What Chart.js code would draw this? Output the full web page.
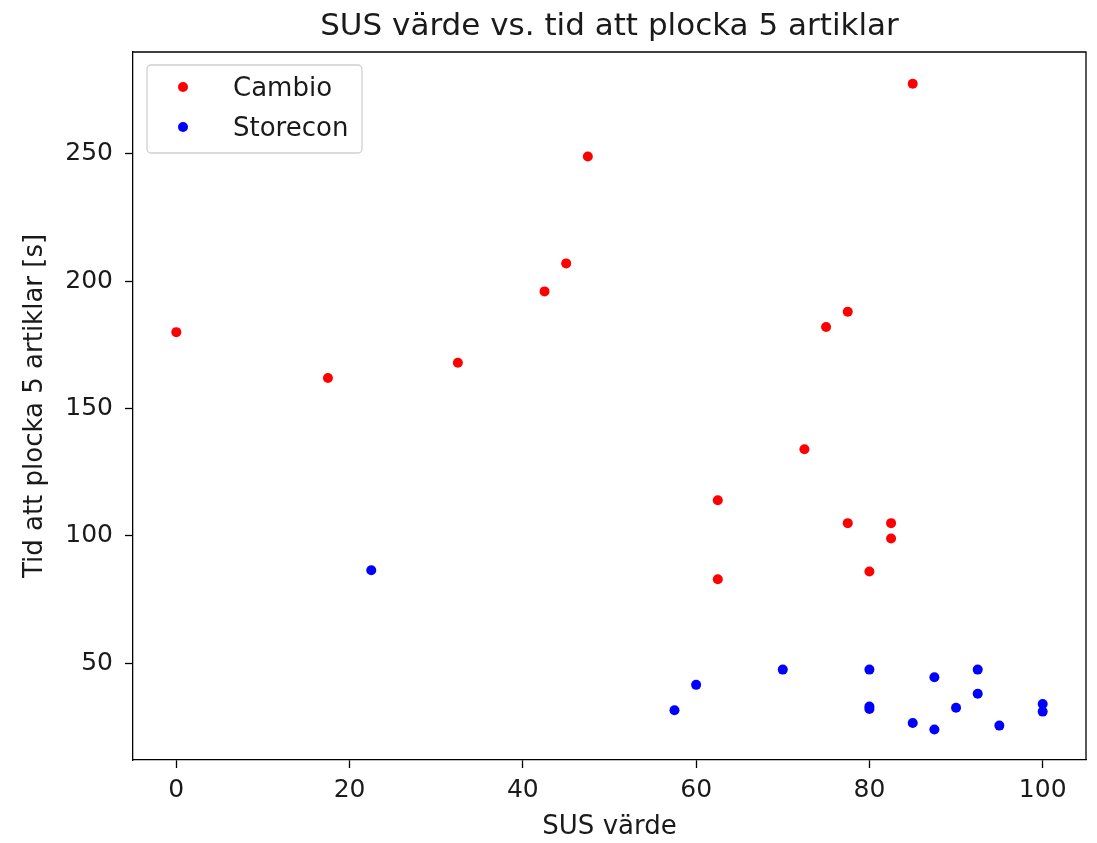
<!DOCTYPE html>
<html>
<head>
<meta charset="utf-8">
<title>SUS värde vs. tid att plocka 5 artiklar</title>
<script src="https://cdn.jsdelivr.net/npm/chart.js@4/dist/chart.umd.min.js"></script>
<style>
  html, body { margin: 0; padding: 0; background: #fff; }
  canvas { display: block; }
</style>
</head>
<body>
<canvas id="susChart" width="1097" height="843"></canvas>
<script>
// SUS score vs. time to pick 5 items

const chartTitle = 'SUS värde vs. tid att plocka 5 artiklar';
const xLabel = 'SUS värde';
const yLabel = 'Tid att plocka 5 artiklar [s]';

// Cambio (red)
const cambioSus  = [0, 17.5, 32.5, 42.5, 45, 47.5, 62.5, 62.5, 72.5, 75, 77.5, 77.5, 80, 82.5, 82.5, 85];
const cambioTime = [180, 162, 168, 196, 207, 249, 114, 83, 134, 182, 188, 105, 86, 105, 99, 277.5];

// Storecon (blue)
const storeconSus  = [22.5, 57.5, 60, 70, 80, 80, 80, 85, 87.5, 87.5, 90, 92.5, 92.5, 95, 100, 100];
const storeconTime = [86.5, 31.5, 41.5, 47.5, 47.5, 33, 32, 26.5, 44.5, 24, 32.5, 47.5, 38, 25.5, 34, 31];

// Axis ticks
const xTicks = [0, 20, 40, 60, 80, 100];
const yTicks = [50, 100, 150, 200, 250];

const FONT = '"DejaVu Sans", sans-serif';
const TEXT_COLOR = '#1a1a1a';

function toPoints(xs, ys) {
    return xs.map((x, i) => ({ x: x, y: ys[i] }));
}

// Draws title, top/right frame lines and a matplotlib style legend
const decorPlugin = {
    id: 'decor',
    afterDraw(chart) {
        const ctx = chart.ctx;
        const area = chart.chartArea;

        // frame (top and right)
        ctx.save();
        ctx.strokeStyle = '#000';
        ctx.lineWidth = 1.3;
        ctx.beginPath();
        ctx.moveTo(area.left, area.top);
        ctx.lineTo(area.right, area.top);
        ctx.lineTo(area.right, area.bottom);
        ctx.stroke();

        // title
        ctx.fillStyle = TEXT_COLOR;
        ctx.font = '31px ' + FONT;
        ctx.textAlign = 'center';
        ctx.textBaseline = 'alphabetic';
        ctx.fillText(chartTitle, (area.left + area.right) / 2, 35);

        // legend box
        const bx = area.left + 14, by = area.top + 13, bw = 215, bh = 88;
        ctx.beginPath();
        ctx.roundRect(bx, by, bw, bh, 4);
        ctx.fillStyle = 'rgba(255,255,255,0.8)';
        ctx.fill();
        ctx.strokeStyle = '#d0d0d0';
        ctx.lineWidth = 1.3;
        ctx.stroke();

        ctx.font = '26px ' + FONT;
        ctx.textAlign = 'left';
        chart.data.datasets.forEach((ds, i) => {
            const cy = by + 22 + i * 40;
            ctx.beginPath();
            ctx.arc(bx + 36, cy, 5, 0, Math.PI * 2);
            ctx.fillStyle = ds.backgroundColor;
            ctx.fill();
            ctx.fillStyle = TEXT_COLOR;
            ctx.fillText(ds.label, bx + 86, cy + 8.5);
        });
        ctx.restore();
    }
};

const susChart = new Chart(document.getElementById('susChart'), {
    type: 'scatter',
    data: {
        datasets: [
            {
                label: 'Cambio',
                data: toPoints(cambioSus, cambioTime),
                backgroundColor: '#ff0000',
                borderColor: '#ff0000',
                pointRadius: 5,
                pointBorderWidth: 0
            },
            {
                label: 'Storecon',
                data: toPoints(storeconSus, storeconTime),
                backgroundColor: '#0000ff',
                borderColor: '#0000ff',
                pointRadius: 5,
                pointBorderWidth: 0
            }
        ]
    },
    options: {
        responsive: false,
        devicePixelRatio: 1,
        animation: false,
        layout: {
            padding: { top: 52, right: 11, bottom: 0, left: 0 }
        },
        scales: {
            x: {
                type: 'linear',
                min: -5,
                max: 105,
                afterBuildTicks: scale => { scale.ticks = xTicks.map(v => ({ value: v })); },
                afterFit: scale => { scale.height = 83; },
                grid: {
                    drawOnChartArea: false,
                    drawTicks: true,
                    tickLength: 8,
                    tickColor: '#000',
                    tickWidth: 1.3
                },
                border: { color: '#000', width: 1.3 },
                ticks: {
                    color: TEXT_COLOR,
                    font: { family: FONT, size: 25 },
                    padding: 7,
                    maxRotation: 0
                },
                title: {
                    display: true,
                    text: xLabel,
                    color: TEXT_COLOR,
                    font: { family: FONT, size: 26 },
                    padding: { top: 0, bottom: 0 }
                }
            },
            y: {
                type: 'linear',
                min: 12,
                max: 290,
                afterBuildTicks: scale => { scale.ticks = yTicks.map(v => ({ value: v })); },
                afterFit: scale => { scale.width = 133; },
                grid: {
                    drawOnChartArea: false,
                    drawTicks: true,
                    tickLength: 8,
                    tickColor: '#000',
                    tickWidth: 1.3
                },
                border: { color: '#000', width: 1.3 },
                ticks: {
                    color: TEXT_COLOR,
                    font: { family: FONT, size: 25 },
                    padding: 12
                },
                title: {
                    display: true,
                    text: yLabel,
                    color: TEXT_COLOR,
                    font: { family: FONT, size: 26 },
                    padding: { top: 20, bottom: 0 }
                }
            }
        },
        plugins: {
            legend: { display: false },
            title: { display: false },
            tooltip: { enabled: false }
        }
    },
    plugins: [decorPlugin]
});
</script>
</body>
</html>
